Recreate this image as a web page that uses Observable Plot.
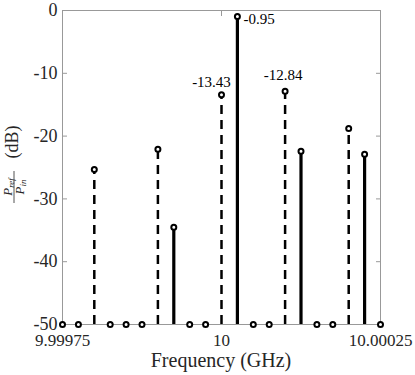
<!DOCTYPE html>
<html>
<head>
<meta charset="utf-8">
<script src="https://cdn.jsdelivr.net/npm/d3@7"></script>
<script src="https://cdn.jsdelivr.net/npm/@observablehq/plot@0.6"></script>
<style>
  html, body { margin: 0; padding: 0; background: #fff; }
  #chart { width: 415px; height: 375px; position: relative; }
  #chart svg, #chart svg text { font-family: "Liberation Serif", "Times New Roman", Times, serif !important; }
</style>
</head>
<body>
<div id="chart"></div>
<script>
// Frequency in GHz
const freq = [9.99975, 9.999775, 9.9998, 9.999825, 9.99985, 9.999875, 9.9999, 9.999925, 9.99995, 9.999975,
              10, 10.000025, 10.00005, 10.000075, 10.0001, 10.000125, 10.00015, 10.000175, 10.0002, 10.000225, 10.00025];
// P_ref / P_in in dB
const power = [-50, -50, -25.3, -50, -50, -50, -22.1, -34.5, -50, -50,
               -13.43, -0.95, -50, -50, -12.84, -22.4, -50, -50, -18.8, -22.9, -50];
// stem style: "dashed", "solid" or "none"
const stemKind = ["none", "none", "dashed", "none", "none", "none", "dashed", "solid", "none", "none",
                  "dashed", "solid", "none", "none", "dashed", "solid", "none", "none", "dashed", "solid", "none"];
const xTicks = [9.99975, 10, 10.00025];
const xTickLabels = ["9.99975", "10", "10.00025"];
const yTicks = [0, -10, -20, -30, -40, -50];
const xLabel = "Frequency (GHz)";
const annotations = [
  {f: 10.000025, p: -0.95, label: "-0.95"},
  {f: 10, p: -13.43, label: "-13.43"},
  {f: 10.0001, p: -12.84, label: "-12.84"}
];

const rows = freq.map((f, i) => ({f, p: power[i], kind: stemKind[i]}));
const dashed = rows.filter(d => d.kind === "dashed");
const solid = rows.filter(d => d.kind === "solid");
const baseline = -50;

const axisColor = "#999";
const textColor = "#262626";
const serif = "Liberation Serif";

const chart = Plot.plot({
  width: 415,
  height: 375,
  marginLeft: 62,
  marginRight: 35,
  marginTop: 10,
  marginBottom: 51,
  style: {background: "#fff"},
  x: {domain: [9.99975, 10.00025]},
  y: {domain: [-50, 0]},
  marks: [
    Plot.frame({stroke: axisColor, strokeWidth: 1}),
    // inward ticks on all four sides
    Plot.axisX({anchor: "bottom", ticks: xTicks, tickSize: -5, stroke: axisColor, fill: "none"}),
    Plot.axisX({anchor: "top", ticks: xTicks, tickSize: -5, stroke: axisColor, fill: "none"}),
    Plot.axisY({anchor: "left", ticks: yTicks, tickSize: -5, stroke: axisColor, fill: "none"}),
    Plot.axisY({anchor: "right", ticks: yTicks, tickSize: -5, stroke: axisColor, fill: "none"}),
    // tick labels
    Plot.axisX({anchor: "bottom", ticks: xTicks, tickSize: 0, tickPadding: 9, fontSize: 17, fill: textColor, fontFamily: serif,
                tickFormat: d => xTickLabels[xTicks.findIndex(t => Math.abs(t - d) < 1e-9)], label: null}),
    Plot.axisY({anchor: "left", ticks: yTicks, tickSize: 0, tickPadding: 5, fontSize: 18, fill: textColor, fontFamily: serif,
                tickFormat: d => String(d), label: null}),
    // stems
    Plot.ruleX(dashed, {x: "f", y1: baseline, y2: "p", stroke: "#000", strokeWidth: 2.5, strokeDasharray: "9,6"}),
    Plot.ruleX(solid, {x: "f", y1: baseline, y2: "p", stroke: "#000", strokeWidth: 3.2}),
    // markers
    Plot.dot(rows, {x: "f", y: "p", r: 2.5, stroke: "#000", strokeWidth: 2, fill: "#fff"}),
    // annotations
    Plot.text(annotations.slice(0, 1), {x: "f", y: "p", text: "label", textAnchor: "start", dx: 6, dy: 3, fontSize: 15, fontFamily: serif, fill: "#000"}),
    Plot.text(annotations.slice(1, 2), {x: "f", y: "p", text: "label", dx: -10, dy: -13, fontSize: 15, fontFamily: serif, fill: "#000"}),
    Plot.text(annotations.slice(2, 3), {x: "f", y: "p", text: "label", dx: -2, dy: -16, fontSize: 15, fontFamily: serif, fill: "#000"})
  ]
});

const svg = d3.select(chart);
// x-axis label
svg.append("text")
  .attr("x", 221).attr("y", 367)
  .attr("text-anchor", "middle").attr("font-size", 20)
  .attr("fill", textColor).attr("font-family", serif)
  .text(xLabel);

// y-axis label: fraction P_ref / P_in followed by (dB), rotated
const g = svg.append("g")
  .attr("transform", "translate(15,170) rotate(-90)")
  .attr("fill", textColor)
  .attr("font-family", serif);
// numerator
const num = g.append("text").attr("x", -17).attr("y", -3).attr("text-anchor", "middle").attr("font-size", 13).attr("font-style", "italic");
num.append("tspan").text("P");
num.append("tspan").attr("font-size", 9).attr("dy", 2).text("ref");
// fraction bar
g.append("line").attr("x1", -33).attr("x2", -1).attr("y1", -1).attr("y2", -1).attr("stroke", textColor).attr("stroke-width", 0.8);
// denominator
const den = g.append("text").attr("x", -17).attr("y", 9).attr("text-anchor", "middle").attr("font-size", 13).attr("font-style", "italic");
den.append("tspan").text("P");
den.append("tspan").attr("font-size", 9).attr("dy", 2).text("in");
g.append("text").attr("x", 28).attr("y", 3).attr("text-anchor", "middle").attr("font-size", 18).text("(dB)");

document.getElementById("chart").appendChild(chart);
</script>
</body>
</html>
